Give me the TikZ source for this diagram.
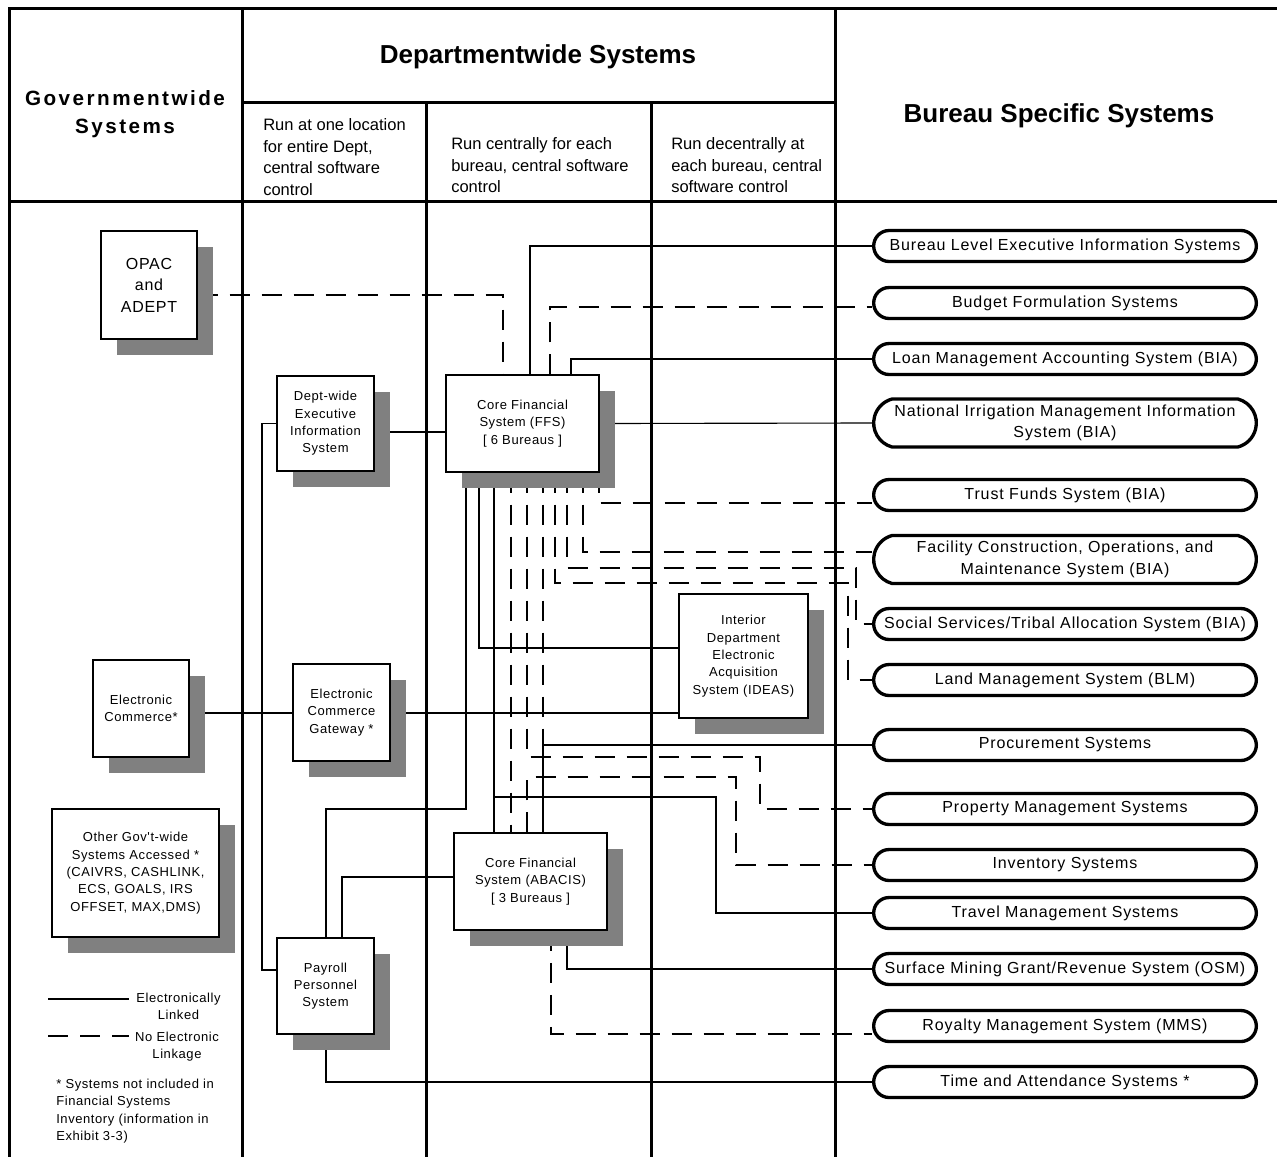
\documentclass[tikz,border=0pt]{standalone}
\usepackage{fontspec}
\setmainfont{Liberation Sans}
\newfontfamily\bxfont[LetterSpace=4.5]{Liberation Sans}
\newfontfamily\bufont[LetterSpace=5.5]{Liberation Sans}
\newfontfamily\gwfont[LetterSpace=12]{Liberation Sans}
\usetikzlibrary{shapes.misc,shadows,calc}
\pgfdeclarelayer{background}
\pgfsetlayers{background,main}
\definecolor{shgray}{HTML}{808080}
\tikzset{
  frame/.style={line width=2.25pt},
  link/.style={line width=0.85pt},
  nolink/.style={line width=0.85pt, dash pattern=on 15pt off 9pt},
  wh/.style 2 args={minimum width=#1*0.75pt, minimum height=#2*0.75pt},
  sysbox/.style={draw, line width=1.1pt, fill=white, align=center, inner sep=0pt,
    font={\bxfont\fontsize{9.75pt}{13pt}\selectfont},
    general shadow={fill=shgray, shadow xshift=12pt, shadow yshift=-12pt}},
  bureau/.style={rounded rectangle, rounded rectangle arc length=180, draw, line width=2.5pt,
    fill=white, minimum width=287pt, minimum height=23.25pt, inner sep=0pt, align=center,
    font={\bufont\fontsize{12pt}{16pt}\selectfont}},
  bureau2/.style={bureau, minimum height=36pt, rounded rectangle arc length=150},
  txt/.style={inner sep=0pt, align=center, font={\bxfont\fontsize{9.75pt}{13pt}\selectfont}},
  subhead/.style={inner sep=0pt, anchor=west, align=left, font={\fontsize{12.4pt}{16.1pt}\selectfont}},
  bighead/.style={inner sep=0pt, align=center, font={\bfseries\fontsize{19.5pt}{24pt}\selectfont}}
}
\begin{document}
\begin{tikzpicture}[x=0.75pt,y=-0.75pt]
\useasboundingbox (0,0) rectangle (1277,1157);
% frame
\draw[frame] (1277,8) -- (9,8) -- (9,1157);
\draw[frame] (242,8) -- (242,1157);
\draw[frame] (835,8) -- (835,1157);
\draw[frame] (426,102) -- (426,1157);
\draw[frame] (651,102) -- (651,1157);
\draw[frame] (242,102) -- (835,102);
\draw[frame] (9,201) -- (1277,201);
% headers
\node[inner sep=0pt, align=center, font={\gwfont\bfseries\fontsize{15.5pt}{21pt}\selectfont}] (gw) at (125,114) {Governmentwide\\Systems};
\node[bighead] (dw) at (538,57) {Departmentwide Systems};
\node[bighead] (bs) at (1059,115.5) {Bureau Specific Systems};
\node[subhead] (h1) at (263,157) {Run at one location\\for entire Dept,\\central software\\control};
\node[subhead] (h2) at (451,165.5) {Run centrally for each\\bureau, central software\\control};
\node[subhead] (h3) at (671,165.5) {Run decentrally at\\each bureau, central\\software control};
% boxes
\node[sysbox, wh={96}{108}, font={\bxfont\fontsize{12pt}{16.1pt}\selectfont}] (opac) at (149,285) {OPAC\\and\\ADEPT};
\node[sysbox, wh={97}{95}] (deis) at (325.5,423.5) {Dept-wide\\Executive\\Information\\System};
\node[sysbox, wh={153}{97}] (ffs) at (522.5,423.5) {Core Financial\\System (FFS)\\{[} 6 Bureaus ]};
\node[sysbox, wh={96}{97}] (ec) at (141,708.5) {Electronic\\Commerce*};
\node[sysbox, wh={97}{97}] (ecg) at (341.5,712.5) {Electronic\\Commerce\\Gateway *};
\node[sysbox, wh={129}{124}] (ideas) at (743.5,656) {Interior\\Department\\Electronic\\Acquisition\\System (IDEAS)};
\node[sysbox, wh={167}{128}] (other) at (135.5,873) {Other Gov't-wide\\Systems Accessed *\\(CAIVRS, CASHLINK,\\ECS, GOALS, IRS\\OFFSET, MAX,DMS)};
\node[sysbox, wh={153}{97}] (abacis) at (530.5,881.5) {Core Financial\\System (ABACIS)\\{[} 3 Bureaus ]};
\node[sysbox, wh={97}{96}] (payroll) at (325.5,986) {Payroll\\Personnel\\System};
% bureau systems
\node[bureau] (bl) at (1065,246) {Bureau Level Executive Information Systems};
\node[bureau] (bf) at (1065,303) {Budget Formulation Systems};
\node[bureau] (lm) at (1065,359) {Loan Management Accounting System (BIA)};
\node[bureau2] (ni) at (1065,423) {National Irrigation Management Information\\System (BIA)};
\node[bureau] (tf) at (1065,495) {Trust Funds System (BIA)};
\node[bureau2] (fc) at (1065,559.5) {Facility Construction, Operations, and\\Maintenance System (BIA)};
\node[bureau] (ss) at (1065,624) {Social Services/Tribal Allocation System (BIA)};
\node[bureau] (lmb) at (1065,680) {Land Management System (BLM)};
\node[bureau] (pr) at (1065,745) {Procurement Systems};
\node[bureau] (pm) at (1065,809) {Property Management Systems};
\node[bureau] (inv) at (1065,865) {Inventory Systems};
\node[bureau] (tm) at (1065,913) {Travel Management Systems};
\node[bureau] (sm) at (1065,969) {Surface Mining Grant/Revenue System (OSM)};
\node[bureau] (rm) at (1065,1026) {Royalty Management System (MMS)};
\node[bureau] (ta) at (1065,1082) {Time and Attendance Systems *};
% connectors
\begin{pgfonlayer}{background}
\draw[link] (ffs.north -| 530,0) |- (bl.west);
\draw[nolink] (ffs.north -| 550,0) |- (bf.west |- 0,307);
\draw[link] (ffs.north -| 571,0) |- (lm.west);
\draw[link] (ffs.east) -- (ni.west);
\draw[nolink] (ffs.south -| 599,0) |- (tf.west |- 0,503);
\draw[nolink] (ffs.south -| 583,0) |- (fc.west |- 0,552);
\draw[nolink] (ffs.south -| 567,0) |- (856,568) |- (ss.west);
\draw[nolink] (ffs.south -| 555,0) |- (848,583) |- (lmb.west);
\draw[nolink] (ffs.south -| 543,0) -- (543,745);
\draw[link] (abacis.north -| 543,0) |- (pr.west);
\draw[nolink] (ffs.south -| 527,0) |- (760,757) |- (pm.west);
\draw[nolink] (abacis.north -| 527,0) |- (736,777) |- (inv.west);
\draw[nolink] (ffs.south -| 511,0) -- (abacis.north -| 511,0);
\draw[link] (ffs.south -| 494,0) -- (abacis.north -| 494,0);
\draw[link] (abacis.north -| 494,0) |- (716,797) |- (tm.west);
\draw[link] (ffs.south -| 479,0) |- (ideas.west |- 0,648);
\draw[link] (ffs.south -| 466,0) |- (326,809) -- (payroll.north -| 326,0);
\draw[link] (payroll.north -| 342,0) |- (abacis.west |- 0,877);
\draw[link] (payroll.south -| 326,0) |- (ta.west);
\draw[nolink] (abacis.south -| 551,0) |- (rm.west |- 0,1034);
\draw[link] (abacis.south -| 567,0) |- (sm.west);
\draw[nolink] (opac.east |- 0,295) -| (ffs.north -| 503,0);
\draw[link] (deis.east |- 0,432) -- (ffs.west |- 0,432);
\draw[link] (deis.west) -| (262,970) -- (payroll.west |- 0,970);
\draw[link] (ec.east |- 0,713) -- (ecg.west |- 0,713);
\draw[link] (ecg.east |- 0,713) -- (ideas.west |- 0,713);
\end{pgfonlayer}
% legend
\draw[link] (48,999) -- (129,999);
\draw[nolink] (48,1036) -- (129,1036);
\node[txt] (leg1) at (178.5,1006.5) {Electronically\\Linked};
\node[txt] (leg2) at (177,1046.5) {No Electronic\\Linkage};
\node[txt, anchor=west, align=left] (foot) at (56,1111) {* Systems not included in\\Financial Systems\\Inventory (information in\\Exhibit 3-3)};
\end{tikzpicture}
\end{document}
